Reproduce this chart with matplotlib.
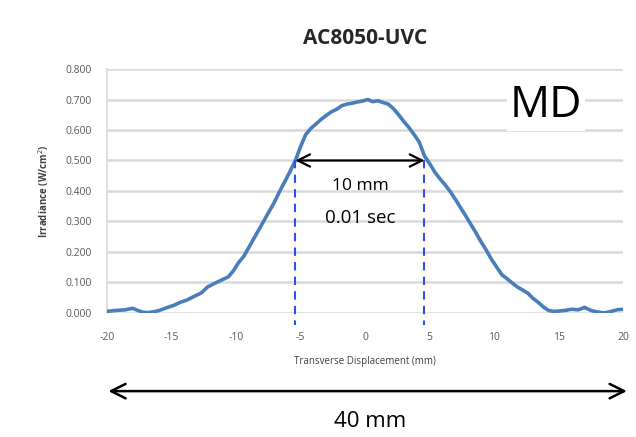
import numpy as np
import matplotlib.pyplot as plt
from matplotlib.patches import FancyArrowPatch

# profile (x in mm, irradiance in W/cm^2)
disp_mm = [-20, -19.3, -18.6, -18.0, -17.6, -17.2, -16.8, -16.3, -15.8, -15.3, -14.8,
           -14.3, -13.8, -13.2, -12.7, -12.2, -11.6, -11.1, -10.6, -10.2, -9.8,
           -9.4, -9.0, -8.6, -8.2, -7.8, -7.4, -7.0, -6.6, -6.2, -5.8, -5.4,
           -5.0, -4.6, -4.2, -3.8, -3.4, -3.0, -2.6, -2.2, -1.8, -1.4, -1.0,
           -0.6, -0.2, 0.2, 0.6, 1.0, 1.4, 1.8, 2.2, 2.6, 3.0, 3.4, 3.8, 4.2,
           4.6, 5.0, 5.4, 5.8, 6.2, 6.6, 7.0, 7.4, 7.8, 8.2, 8.6, 9.0, 9.4,
           9.8, 10.2, 10.6, 11.0, 11.4, 11.8, 12.2, 12.6, 13.0, 13.4, 13.8,
           14.2, 14.6, 15.0, 15.5, 16.0, 16.5, 17.0, 17.5, 18.0, 18.5, 19.0,
           19.5, 20.0]
irradiance = [0.005, 0.008, 0.010, 0.015, 0.008, 0.002, 0.001, 0.004, 0.010, 0.018, 0.025,
              0.035, 0.042, 0.055, 0.065, 0.085, 0.098, 0.108, 0.118, 0.138, 0.165,
              0.185, 0.215, 0.245, 0.275, 0.305, 0.335, 0.365, 0.400, 0.432, 0.465, 0.500,
              0.545, 0.585, 0.605, 0.620, 0.635, 0.648, 0.660, 0.668, 0.680, 0.685, 0.688,
              0.692, 0.695, 0.700, 0.693, 0.696, 0.690, 0.685, 0.670, 0.650, 0.628, 0.608, 0.585, 0.560,
              0.515, 0.490, 0.462, 0.440, 0.420, 0.398, 0.372, 0.345, 0.318, 0.290, 0.262, 0.232, 0.205,
              0.175, 0.150, 0.125, 0.112, 0.098, 0.085, 0.075, 0.065, 0.048, 0.035, 0.020,
              0.008, 0.005, 0.006, 0.008, 0.012, 0.010, 0.018, 0.008, 0.003, 0.000, 0.004,
              0.010, 0.012]

x_ticks = [-20, -15, -10, -5, 0, 5, 10, 15, 20]
y_ticks = [0.0, 0.1, 0.2, 0.3, 0.4, 0.5, 0.6, 0.7, 0.8]
fwhm_left, fwhm_right, fwhm_level = -5.4, 4.6, 0.50

plt.rcParams['font.family'] = ['Open Sans', 'DejaVu Sans']
plt.rcParams['axes.unicode_minus'] = False

fig = plt.figure(figsize=(6.36, 4.37), dpi=100)
ax = fig.add_axes([0.168, 0.284, 0.812, 0.558])

ax.plot(disp_mm, irradiance, color='#4a7ebb', lw=2.6, zorder=3)

ax.set_xlim(-20, 20)
ax.set_ylim(0, 0.8)
ax.set_xticks(x_ticks)
ax.set_yticks(y_ticks)
ax.set_yticklabels([f'{v:.3f}' for v in y_ticks])
ax.tick_params(length=0, labelsize=7.5, colors='#595959')
ax.tick_params(axis='x', pad=14)
ax.tick_params(axis='y', pad=11)
ax.grid(axis='y', color='#d9d9d9', lw=1.8)
for side in ['top', 'right', 'bottom']:
    ax.spines[side].set_visible(False)
ax.spines['left'].set_color('#d9d9d9')
ax.spines['left'].set_linewidth(1.2)
ax.set_axisbelow(True)

ax.set_xlabel('Transverse Displacement (mm)', fontsize=7, color='#404040', labelpad=9)
ax.set_ylabel('Irradiance (W/cm$^2$)', fontsize=7, color='#404040',
              fontweight='bold', labelpad=10)
fig.text(0.574, 0.912, 'AC8050-UVC', ha='center', va='center',
         fontsize=15, fontweight='bold', color='#262626')

# FWHM markers
for xv in (fwhm_left, fwhm_right):
    ax.plot([xv, xv], [fwhm_level, -0.04], color='#2d4ef0', lw=1.5,
            ls=(0, (4, 3)), clip_on=False, zorder=4)
ax.annotate('', xy=(fwhm_left, fwhm_level), xytext=(fwhm_right, fwhm_level),
            arrowprops=dict(arrowstyle='<->', color='black', lw=1.6,
                            mutation_scale=22, shrinkA=0, shrinkB=0), zorder=5)
ax.text(-0.4, 0.415, '10 mm', ha='center', va='center', fontsize=12.5, color='black')
ax.text(-0.4, 0.31, '0.01 sec', ha='center', va='center', fontsize=13.5, color='black')

ax.text(14.0, 0.68, 'MD', ha='center', va='center', fontsize=32, color='black',
        bbox=dict(facecolor='white', edgecolor='none', pad=2), zorder=5)

# overall width arrow under the axis
fig.patches.append(FancyArrowPatch(
    (0.166, 0.105), (0.99, 0.105), transform=fig.transFigure,
    arrowstyle='<->', mutation_scale=26, color='black', lw=1.8))
fig.text(0.582, 0.035, '40 mm', ha='center', va='center', fontsize=16, color='black')

fig.savefig('out.png', dpi=100)
